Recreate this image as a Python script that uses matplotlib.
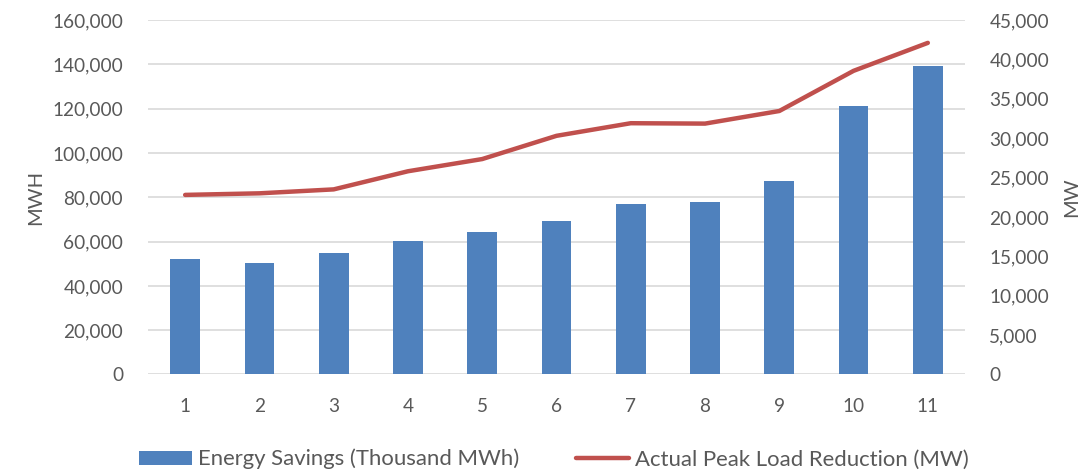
import matplotlib
matplotlib.use("Agg")
from matplotlib import pyplot as plt
from matplotlib.ticker import FuncFormatter

years = [1, 2, 3, 4, 5, 6, 7, 8, 9, 10, 11]
energy_savings = [52100, 50300, 54800, 60100, 64200, 69100, 77000, 78000, 87300, 121300, 139200]
peak_reduction = [22800, 23000, 23500, 25800, 27350, 30300, 31900, 31850, 33450, 38550, 42100]

plt.rcParams['font.family'] = ['Lato', 'DejaVu Sans']
text_col = '#595959'
grid_col = '#d9d9d9'

fig = plt.figure(figsize=(10.9, 4.7), dpi=100)
ax = fig.add_axes([0.1358, 0.2032, 0.7495, 0.7542])
ax2 = ax.twinx()

# bars on the left axis
ax.bar(years, energy_savings, width=0.4, color='#4f81bd', zorder=3,
       label='Energy Savings (Thousand MWh)')
ax.set_xlim(0.5, 11.5)
ax.set_ylim(0, 160000)
ax.set_yticks(range(0, 160001, 20000))
ax.grid(axis='y', color=grid_col, linewidth=1.2, zorder=0)
ax.set_axisbelow(True)

# line on the right axis
ax2.plot(years, peak_reduction, color='#c0504d', linewidth=3.2,
         solid_joinstyle='round', solid_capstyle='round',
         label='Actual Peak Load Reduction (MW)')
ax2.set_ylim(0, 45000)
ax2.set_yticks(range(0, 45001, 5000))

fmt = FuncFormatter(lambda v, p: f'{int(v):,}')
for a in (ax, ax2):
    a.yaxis.set_major_formatter(fmt)
    for s in a.spines.values():
        s.set_visible(False)
    a.tick_params(length=0, labelsize=13.7, colors=text_col)
ax.tick_params(axis='y', pad=18)
ax.tick_params(axis='x', pad=17)
ax2.tick_params(axis='y', pad=17.5)
ax.set_xticks(years)

ax.set_ylabel('MWH', fontsize=14.5, color=text_col, labelpad=6)
ax2.set_ylabel('MW', fontsize=14.5, color=text_col, labelpad=10)

h1, l1 = ax.get_legend_handles_labels()
h2, l2 = ax2.get_legend_handles_labels()
fig.legend(h1 + h2, l1 + l2, loc='center', bbox_to_anchor=(0.508, 0.023),
           ncol=2, frameon=False, fontsize=15.9, labelcolor=text_col,
           handlelength=2.4, handleheight=0.6, handletextpad=0.25,
           columnspacing=2.6, borderpad=0, borderaxespad=0)

fig.savefig('out.png', dpi=100)
